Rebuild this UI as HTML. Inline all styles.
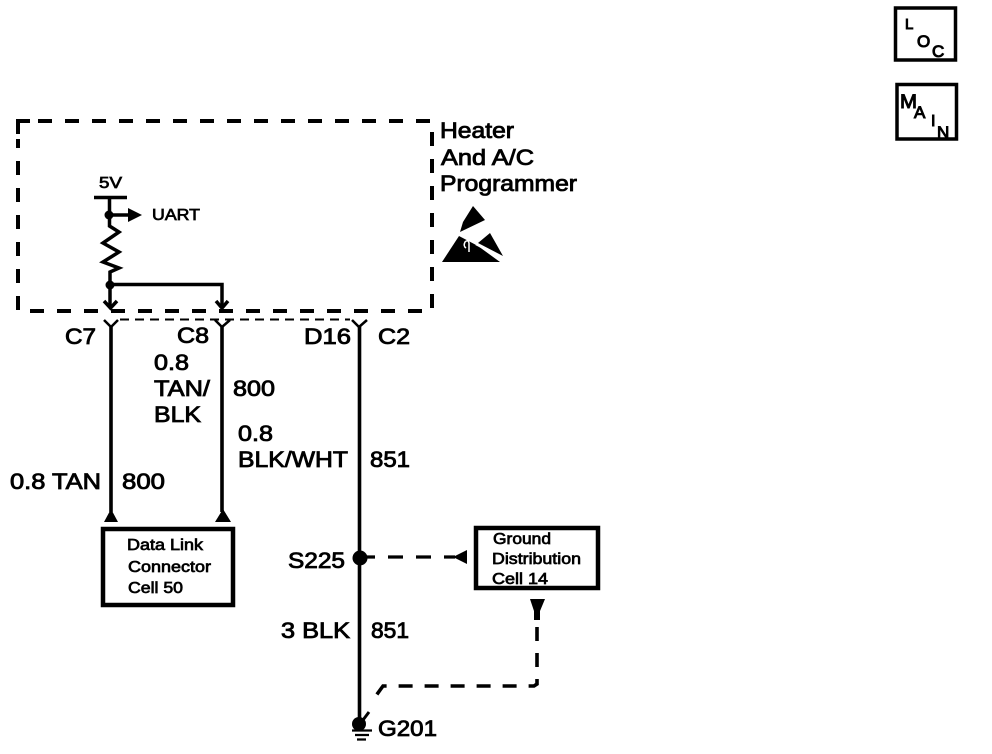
<!DOCTYPE html>
<html><head><meta charset="utf-8"><style>
html,body{margin:0;padding:0;background:#fff}
svg{display:block}
text{font-family:"Liberation Sans",sans-serif;fill:#000;stroke:#000;stroke-width:.85px}
.l{font-size:22px}.s{font-size:15.5px;stroke-width:.7px}
.c{stroke-width:1px}
</style></head><body>
<svg width="992" height="754" viewBox="0 0 992 754" xmlns="http://www.w3.org/2000/svg">
<rect width="992" height="754" fill="#fff"/>
<!-- corner boxes -->
<rect x="895.500" y="8" width="60" height="52" fill="none" stroke="#000" stroke-width="3.500"/>
<rect x="897" y="84.500" width="59.500" height="54.500" fill="none" stroke="#000" stroke-width="3.500"/>
<text class="c" x="905" y="29" font-size="15">L</text>
<text class="c" x="917" y="47" font-size="17">O</text>
<text class="c" x="932" y="57" font-size="17">C</text>
<text class="c" x="900" y="108" font-size="19" textLength="17" lengthAdjust="spacingAndGlyphs">M</text>
<text class="c" x="914" y="118" font-size="17">A</text>
<text class="c" x="931" y="126" font-size="16">I</text>
<text class="c" x="937" y="138" font-size="17">N</text>
<!-- module dashed box -->
<path d="M18 134V121H30" fill="none" stroke="#000" stroke-width="4"/>
<path d="M38 121H432V311H18V139" fill="none" stroke="#000" stroke-width="4" stroke-dasharray="14 13"/>
<!-- internals -->
<path d="M94 197.500H127" stroke="#000" stroke-width="3.500" fill="none"/>
<path d="M109.500 197V226L119 232L103 243L119 252L103 262L119 268L110 272V308" stroke="#000" stroke-width="3.500" fill="none"/>
<circle cx="109" cy="215" r="4.500"/><circle cx="110" cy="285" r="4.500"/>
<path d="M109 215H130" stroke="#000" stroke-width="3.500"/>
<path d="M128 208L142 215L128 222Z"/>
<path d="M110 284.500H222V308" stroke="#000" stroke-width="3.500" fill="none"/>
<path d="M104 301L110.500 308L117 301M216 301L222 308L228 301" stroke="#000" stroke-width="3.500" fill="none"/>
<!-- connector line -->
<path d="M120 319.500H350" stroke="#000" stroke-width="2" stroke-dasharray="9 6" fill="none"/>
<path d="M104 320L111 327L118 320M215 320L222 327L230 320M352 320L359 327L367 320" stroke="#000" stroke-width="2.500" fill="none"/>
<!-- wires -->
<path d="M111 326V512M222 326V512M359.500 326V728" stroke="#000" stroke-width="3.600" fill="none"/>
<path d="M104 522L111 509L118 522Z"/><path d="M215 522L223 509L231 522Z"/>
<!-- data link box -->
<rect x="103" y="529" width="130" height="76" fill="#fff" stroke="#000" stroke-width="4.500"/>
<!-- ground box -->
<rect x="476" y="528" width="122" height="60" fill="#fff" stroke="#000" stroke-width="4.500"/>
<!-- splice -->
<circle cx="360" cy="558" r="7.500"/>
<path d="M367 557H455" stroke="#000" stroke-width="3.200" stroke-dasharray="8 13 15 13 15 13 15" fill="none"/>
<path d="M453 557L467 550V564Z"/>
<!-- ground dashed -->
<path d="M530 599H545L540 611V620H534V611Z"/>
<path d="M537 627V684L534 686H383L375 697" stroke="#000" stroke-width="3.600" stroke-dasharray="14 12" fill="none"/>
<!-- ground symbol -->
<circle cx="359" cy="724" r="7"/>
<path d="M352 730.500H372M355 735H369M357 739.500H366" stroke="#000" stroke-width="2.200" fill="none"/>
<path d="M363 720L369 712" stroke="#000" stroke-width="3" fill="none"/>
<!-- ESD -->
<path d="M473 206L485 220L460 232L463 222Z"/>
<path d="M442 262L459 236L478 246L500 262Z"/>
<path d="M490 233L503 256L478 243Z"/>
<path d="M476 244L503 258" stroke="#fff" stroke-width="2.500" fill="none"/>
<path d="M462 234L470 240" stroke="#fff" stroke-width="1.500" fill="none"/>
<path d="M469 252V243Q468 239 465 242Q463 246 466 248" fill="none" stroke="#fff" stroke-width="1.500"/>
<!-- labels -->
<text class="l" x="440" y="138" textLength="74" lengthAdjust="spacingAndGlyphs">Heater</text>
<text class="l" x="441" y="165" textLength="93" lengthAdjust="spacingAndGlyphs">And A/C</text>
<text class="l" x="440" y="191" textLength="137" lengthAdjust="spacingAndGlyphs">Programmer</text>
<text class="l" x="65" y="344" textLength="31" lengthAdjust="spacingAndGlyphs">C7</text>
<text class="l" x="177" y="343" textLength="32" lengthAdjust="spacingAndGlyphs">C8</text>
<text class="l" x="304" y="344" textLength="47" lengthAdjust="spacingAndGlyphs">D16</text>
<text class="l" x="378" y="344" textLength="32" lengthAdjust="spacingAndGlyphs">C2</text>
<text class="l" x="154" y="370" textLength="35" lengthAdjust="spacingAndGlyphs">0.8</text>
<text class="l" x="154" y="396" textLength="56" lengthAdjust="spacingAndGlyphs">TAN/</text>
<text class="l" x="154" y="422" textLength="47" lengthAdjust="spacingAndGlyphs">BLK</text>
<text class="l" x="233" y="396" textLength="42" lengthAdjust="spacingAndGlyphs">800</text>
<text class="l" x="238" y="441" textLength="35" lengthAdjust="spacingAndGlyphs">0.8</text>
<text class="l" x="238" y="467" textLength="110" lengthAdjust="spacingAndGlyphs">BLK/WHT</text>
<text class="l" x="370" y="467" textLength="40" lengthAdjust="spacingAndGlyphs">851</text>
<text class="l" x="10" y="489" textLength="91" lengthAdjust="spacingAndGlyphs">0.8 TAN</text>
<text class="l" x="122" y="489" textLength="43" lengthAdjust="spacingAndGlyphs">800</text>
<text class="l" x="288" y="568" textLength="57" lengthAdjust="spacingAndGlyphs">S225</text>
<text class="l" x="281" y="638" textLength="69" lengthAdjust="spacingAndGlyphs">3 BLK</text>
<text class="l" x="371" y="638" textLength="38" lengthAdjust="spacingAndGlyphs">851</text>
<text class="l" x="378" y="736" textLength="59" lengthAdjust="spacingAndGlyphs">G201</text>
<text class="s" x="99" y="188" textLength="23" lengthAdjust="spacingAndGlyphs">5V</text>
<text class="s" x="152" y="220" textLength="48" lengthAdjust="spacingAndGlyphs">UART</text>
<text class="s" x="127" y="550" textLength="76" lengthAdjust="spacingAndGlyphs">Data Link</text>
<text class="s" x="128" y="572" textLength="83" lengthAdjust="spacingAndGlyphs">Connector</text>
<text class="s" x="128" y="593" textLength="55" lengthAdjust="spacingAndGlyphs">Cell 50</text>
<text class="s" x="493" y="544" textLength="58" lengthAdjust="spacingAndGlyphs">Ground</text>
<text class="s" x="492" y="564" textLength="89" lengthAdjust="spacingAndGlyphs">Distribution</text>
<text class="s" x="492" y="584" textLength="56" lengthAdjust="spacingAndGlyphs">Cell 14</text>
</svg>
</body></html>
